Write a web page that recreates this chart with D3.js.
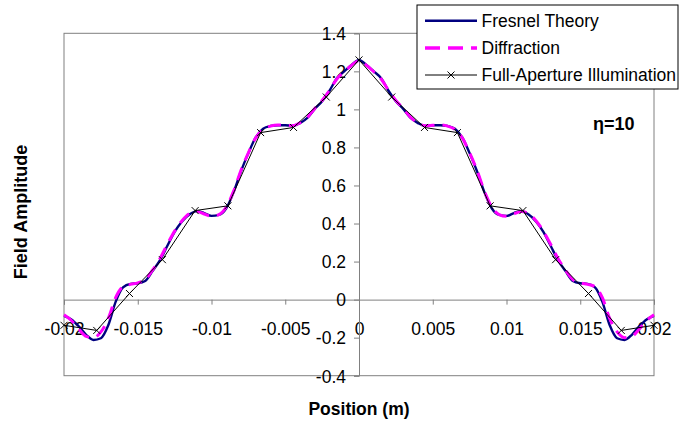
<!DOCTYPE html>
<html>
<head>
<meta charset="utf-8">
<script src="https://cdn.jsdelivr.net/npm/d3@7"></script>
<style>
  html, body { margin: 0; padding: 0; background: #fff; }
  svg { display: block; font-family: "Liberation Sans", Arial, sans-serif; }
</style>
</head>
<body>
<svg id="chart" width="688" height="421"></svg>
<script>
// Sample positions (m) for the two continuous profiles
const positions = [
  -0.0200, -0.0195, -0.0190, -0.0185, -0.0180, -0.0175, -0.0170, -0.0165, -0.0160, -0.0155,
  -0.0150, -0.0145, -0.0140, -0.0135, -0.0130, -0.0125, -0.0120, -0.0115, -0.0110, -0.0105,
  -0.0100, -0.0095, -0.0090, -0.0085, -0.0080, -0.0075, -0.0070, -0.0065, -0.0060, -0.0055,
  -0.0050, -0.0045, -0.0040, -0.0035, -0.0030, -0.0025, -0.0020, -0.0015, -0.0010, -0.0005,
   0.0000,
   0.0005,  0.0010,  0.0015,  0.0020,  0.0025,  0.0030,  0.0035,  0.0040,  0.0045,  0.0050,
   0.0055,  0.0060,  0.0065,  0.0070,  0.0075,  0.0080,  0.0085,  0.0090,  0.0095,  0.0100,
   0.0105,  0.0110,  0.0115,  0.0120,  0.0125,  0.0130,  0.0135,  0.0140,  0.0145,  0.0150,
   0.0155,  0.0160,  0.0165,  0.0170,  0.0175,  0.0180,  0.0185,  0.0190,  0.0195,  0.0200
];

// Fresnel theory field amplitude
const fresnelTheory = [
  -0.086, -0.104, -0.140, -0.185, -0.212, -0.203, -0.135, -0.012,  0.064,  0.083,
   0.086,  0.098,  0.150,  0.206,  0.282,  0.356,  0.411,  0.447,  0.465,  0.455,
   0.440,  0.445,  0.480,  0.565,  0.675,  0.770,  0.853,  0.899,  0.913,  0.917,
   0.917,  0.913,  0.928,  0.955,  1.002,  1.043,  1.098,  1.164,  1.200,  1.234,
   1.260,
   1.234,  1.200,  1.164,  1.098,  1.043,  1.002,  0.955,  0.928,  0.913,  0.917,
   0.917,  0.913,  0.899,  0.853,  0.770,  0.675,  0.565,  0.480,  0.445,  0.440,
   0.455,  0.465,  0.447,  0.411,  0.356,  0.282,  0.206,  0.150,  0.098,  0.086,
   0.083,  0.064, -0.012, -0.135, -0.203, -0.212, -0.185, -0.140, -0.104, -0.086
];

// Diffraction calculation of the same field
const diffraction = [
  -0.080, -0.110, -0.155, -0.193, -0.200, -0.170, -0.100,  0.010,  0.068,  0.080,
   0.088,  0.105,  0.155,  0.215,  0.290,  0.360,  0.415,  0.452,  0.463,  0.450,
   0.438,  0.447,  0.487,  0.570,  0.680,  0.772,  0.850,  0.895,  0.912,  0.918,
   0.916,  0.914,  0.930,  0.958,  1.005,  1.047,  1.100,  1.160,  1.198,  1.232,
   1.255,
   1.232,  1.198,  1.160,  1.100,  1.047,  1.005,  0.958,  0.930,  0.914,  0.916,
   0.918,  0.912,  0.895,  0.850,  0.772,  0.680,  0.570,  0.487,  0.447,  0.438,
   0.450,  0.463,  0.452,  0.415,  0.360,  0.290,  0.215,  0.155,  0.105,  0.088,
   0.080,  0.068,  0.010, -0.100, -0.170, -0.200, -0.193, -0.155, -0.110, -0.080
];

// Full-aperture illumination samples
const fullPositions = [
  -0.02000, -0.01778, -0.01556, -0.01333, -0.01111, -0.00889, -0.00667, -0.00444, -0.00222,
   0.00000,
   0.00222,  0.00444,  0.00667,  0.00889,  0.01111,  0.01333,  0.01556,  0.01778,  0.02000
];
const fullAperture = [
  -0.135, -0.162,  0.032,  0.210,  0.468,  0.493,  0.878,  0.905,  1.065,
   1.260,
   1.065,  0.905,  0.878,  0.493,  0.468,  0.210,  0.032, -0.162, -0.135
];

const xTicks = [-0.02, -0.015, -0.01, -0.005, 0, 0.005, 0.01, 0.015, 0.02];
const xTickLabels = ["-0.02", "-0.015", "-0.01", "-0.005", "0", "0.005", "0.01", "0.015", "0.02"];
const yTicks = [-0.4, -0.2, 0, 0.2, 0.4, 0.6, 0.8, 1, 1.2, 1.4];
const yTickLabels = ["-0.4", "-0.2", "0", "0.2", "0.4", "0.6", "0.8", "1", "1.2", "1.4"];

const legendLabels = ["Fresnel Theory", "Diffraction", "Full-Aperture Illumination"];

const svg = d3.select("#chart");
const plot = { left: 64, right: 654, top: 33.3, bottom: 375.7 };

const x = d3.scaleLinear().domain([-0.02, 0.02]).range([plot.left, plot.right]);
const y = d3.scaleLinear().domain([-0.4, 1.4]).range([plot.bottom, plot.top]);

const tickFont = "17.5px";
const axisGrey = "#808080";

// Plot area frame
svg.append("rect")
  .attr("x", plot.left).attr("y", plot.top)
  .attr("width", plot.right - plot.left).attr("height", plot.bottom - plot.top)
  .attr("fill", "none").attr("stroke", axisGrey).attr("stroke-width", 1);

// X axis along y = 0
const xAxis = d3.axisBottom(x).tickValues(xTicks).tickSize(5).tickFormat((d, i) => xTickLabels[i]);
const gx = svg.append("g").attr("transform", `translate(0,${y(0)})`).call(xAxis);
gx.select(".domain").attr("stroke", axisGrey);
gx.selectAll(".tick line").attr("stroke", axisGrey);
gx.selectAll(".tick text")
  .attr("font-family", "Liberation Sans, Arial, sans-serif")
  .attr("font-size", tickFont).attr("fill", "#000")
  .attr("y", 0).attr("dy", 0).attr("transform", "translate(0,35)");

// Y axis along x = 0
const yAxis = d3.axisLeft(y).tickValues(yTicks).tickSize(5).tickFormat((d, i) => yTickLabels[i]);
const gy = svg.append("g").attr("transform", `translate(${x(0)},0)`).call(yAxis);
gy.select(".domain").attr("stroke", axisGrey);
gy.selectAll(".tick line").attr("stroke", axisGrey);
gy.selectAll(".tick text")
  .attr("font-family", "Liberation Sans, Arial, sans-serif")
  .attr("font-size", tickFont).attr("fill", "#000")
  .attr("x", -13).attr("dy", "0.36em");

// Curves
const smooth = d3.line()
  .x(d => x(d[0])).y(d => y(d[1]))
  .curve(d3.curveMonotoneX);

svg.append("path")
  .datum(positions.map((p, i) => [p, fresnelTheory[i]]))
  .attr("d", smooth)
  .attr("fill", "none").attr("stroke", "#000080").attr("stroke-width", 2.4);

svg.append("path")
  .datum(positions.map((p, i) => [p, diffraction[i]]))
  .attr("d", smooth)
  .attr("fill", "none").attr("stroke", "#ff00ff").attr("stroke-width", 3)
  .attr("stroke-dasharray", "13,8");

const straight = d3.line().x(d => x(d[0])).y(d => y(d[1]));
const fullData = fullPositions.map((p, i) => [p, fullAperture[i]]);
svg.append("path")
  .datum(fullData)
  .attr("d", straight)
  .attr("fill", "none").attr("stroke", "#000").attr("stroke-width", 1);

const cross = (g, cx, cy, r) => {
  g.append("path")
    .attr("d", `M${cx - r},${cy - r}L${cx + r},${cy + r}M${cx - r},${cy + r}L${cx + r},${cy - r}`)
    .attr("stroke", "#000").attr("stroke-width", 1).attr("fill", "none");
};
const markers = svg.append("g");
fullData.forEach(d => cross(markers, x(d[0]), y(d[1]), 3.5));

// Annotation
svg.append("text")
  .attr("x", 593).attr("y", 130)
  .attr("font-size", "18px").attr("font-weight", "bold")
  .text("η=10");

// Axis titles
svg.append("text")
  .attr("x", x(0)).attr("y", 415)
  .attr("text-anchor", "middle")
  .attr("font-size", "17.5px").attr("font-weight", "bold")
  .text("Position (m)");

svg.append("text")
  .attr("transform", "translate(27,212) rotate(-90)")
  .attr("text-anchor", "middle")
  .attr("font-size", "18px").attr("font-weight", "bold")
  .text("Field Amplitude");

// Legend
const legend = svg.append("g");
legend.append("rect")
  .attr("x", 417).attr("y", 5).attr("width", 261).attr("height", 84)
  .attr("fill", "#fff").attr("stroke", "#000").attr("stroke-width", 1);

const rowsY = [20.7, 48, 75];
legend.append("line")
  .attr("x1", 425).attr("x2", 477).attr("y1", rowsY[0]).attr("y2", rowsY[0])
  .attr("stroke", "#000080").attr("stroke-width", 2.4);
legend.append("line")
  .attr("x1", 425).attr("x2", 477).attr("y1", rowsY[1]).attr("y2", rowsY[1])
  .attr("stroke", "#ff00ff").attr("stroke-width", 3.3).attr("stroke-dasharray", "15,8");
legend.append("line")
  .attr("x1", 425).attr("x2", 477).attr("y1", rowsY[2]).attr("y2", rowsY[2])
  .attr("stroke", "#000").attr("stroke-width", 1);
cross(legend, 451, rowsY[2], 3.5);

legendLabels.forEach((t, i) => {
  legend.append("text")
    .attr("x", 481.5).attr("y", rowsY[i]).attr("dy", "0.36em")
    .attr("font-size", "17.5px")
    .text(t);
});
</script>
</body>
</html>
